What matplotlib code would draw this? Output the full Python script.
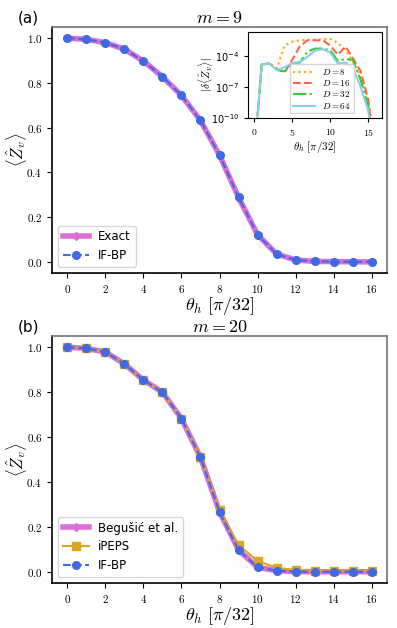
import numpy as np
import matplotlib
matplotlib.use('Agg')
import matplotlib.pyplot as plt
from matplotlib.ticker import FuncFormatter

plt.rcParams['mathtext.fontset'] = 'cm'

theta = np.arange(17)

# m = 9
z_exact_9 = [1.0, 0.995, 0.980, 0.951, 0.898, 0.828, 0.744, 0.632, 0.477,
             0.288, 0.121, 0.035, 0.008, 0.002, 0.001, 0.0, 0.0]
z_ifbp_9 = [1.0, 0.995, 0.980, 0.951, 0.898, 0.828, 0.744, 0.632, 0.477,
            0.288, 0.121, 0.035, 0.008, 0.002, 0.001, 0.0, 0.0]

# inset: log10 |delta Z| vs theta (very small values fall off the axis)
log_err_8 = [-14, -4.84, -4.74, -5.2, -3.0, -2.65, -2.5, -2.45, -2.45, -2.4,
             -2.35, -2.75, -3.45, -4.6, -6.0, -8.3, -14]
log_err_16 = [-14, -4.84, -4.74, -5.3, -5.6, -4.4, -3.1, -2.5, -2.5, -2.5,
              -3.0, -3.9, -3.1, -4.25, -5.5, -8.3, -14]
log_err_32 = [-14, -4.84, -4.74, -5.35, -5.5, -4.74, -4.65, -3.6, -3.3, -3.3,
              -3.45, -4.5, -4.3, -4.4, -6.35, -8.9, -14]
log_err_64 = [-14, -4.84, -4.74, -5.4, -5.1, -4.7, -4.6, -4.1, -3.5, -3.35,
              -3.7, -4.74, -4.65, -5.2, -7.0, -9.3, -14]
bond_dims = [8, 16, 32, 64]

# m = 20
z_begusic_20 = [1.0, 0.995, 0.979, 0.926, 0.854, 0.800, 0.682, 0.510, 0.267,
                0.097, 0.020, 0.005, 0.001, 0.0, 0.0, 0.0, 0.0]
z_ipeps_20 = [1.0, 0.995, 0.979, 0.926, 0.854, 0.800, 0.682, 0.512, 0.277,
              0.119, 0.048, 0.018, 0.008, 0.004, 0.003, 0.003, 0.003]
z_ifbp_20 = [1.0, 0.995, 0.979, 0.926, 0.854, 0.800, 0.682, 0.510, 0.267,
             0.097, 0.020, 0.005, 0.001, 0.0, 0.0, 0.0, 0.0]

exact_kw = dict(color='orchid', lw=4, marker='D', ms=4.5, zorder=2)
ifbp_kw = dict(color='royalblue', lw=1.5, ls='--', marker='o', ms=5.5, zorder=4)
ipeps_kw = dict(color='goldenrod', lw=1.5, marker='s', ms=5.5, zorder=3)

fmt = FuncFormatter(lambda v, p: r'$%.1f$' % v)
fmt_int = FuncFormatter(lambda v, p: r'$%d$' % v)


def style_main(ax, title):
    ax.set_title(r'$%s$' % title, fontsize=13, pad=3)
    ax.set_xlabel(r'$\theta_h\ [\pi/32]$', fontsize=13)
    ax.set_ylabel(r'$\langle \hat{Z}_v \rangle$', fontsize=12)
    ax.xaxis.set_label_coords(0.5, -0.09)
    ax.yaxis.set_label_coords(-0.068, 0.5)
    ax.set_xticks(range(0, 17, 2))
    ax.set_yticks([0.0, 0.2, 0.4, 0.6, 0.8, 1.0])
    ax.xaxis.set_major_formatter(fmt_int)
    ax.yaxis.set_major_formatter(fmt)
    ax.tick_params(labelsize=8)
    for s in ['top', 'right']:
        ax.spines[s].set_color('0.45')
    for s in ax.spines.values():
        s.set_linewidth(1.2)


fig = plt.figure(figsize=(3.97, 6.28), dpi=100)
ax1 = fig.add_axes([52/397, 1 - 273/628, 335/397, 246/628])
ax2 = fig.add_axes([52/397, 1 - 583/628, 335/397, 247/628])

ax1.plot(theta, z_exact_9, label='Exact', **exact_kw)
ax1.plot(theta, z_ifbp_9, label='IF-BP', **ifbp_kw)
style_main(ax1, 'm = 9')
ax1.legend(loc='lower left', fontsize=8.5, handlelength=2.2)

ax2.plot(theta, z_begusic_20, label='Begušić et al.', **exact_kw)
ax2.plot(theta, z_ipeps_20, label='iPEPS', **ipeps_kw)
ax2.plot(theta, z_ifbp_20, label='IF-BP', **ifbp_kw)
style_main(ax2, 'm = 20')
ax2.legend(loc='lower left', fontsize=8.5, handlelength=2.2)

fig.text(18/397, 1 - 18/628, '(a)', fontsize=11, va='center')
fig.text(18/397, 1 - 327/628, '(b)', fontsize=11, va='center')

# inset
ins = fig.add_axes([248/397, 1 - 118/628, 134/397, 86/628])
styles = [dict(color='orange', ls=':'), dict(color='tomato', ls='--'),
          dict(color='limegreen', ls='-.'), dict(color='skyblue', ls='-')]
for D, lg, st in zip(bond_dims, [log_err_8, log_err_16, log_err_32, log_err_64], styles):
    ins.plot(theta, 10.0 ** np.array(lg), lw=1.5, label=r'$D=%d$' % D, **st)
ins.set_yscale('log')
ins.set_ylim(1e-10, 2e-2)
ins.set_xlim(-0.8, 16.8)
ins.set_xticks([0, 5, 10, 15])
ins.set_yticks([1e-10, 1e-7, 1e-4])
ins.minorticks_off()
ins.xaxis.set_major_formatter(fmt_int)
ins.tick_params(labelsize=7, length=3)
ins.set_xlabel(r'$\theta_h\ [\pi/32]$', fontsize=8, labelpad=1)
ins.set_ylabel(r'$|\delta \langle \hat{Z}_v \rangle|$', fontsize=8)
ins.yaxis.set_label_coords(-0.245, 0.5)
ins.legend(loc='lower center', bbox_to_anchor=(0.55, 0.0), fontsize=6.5,
           handlelength=2.5, labelspacing=0.15, borderpad=0.3)

fig.savefig('out.png', dpi=100)
